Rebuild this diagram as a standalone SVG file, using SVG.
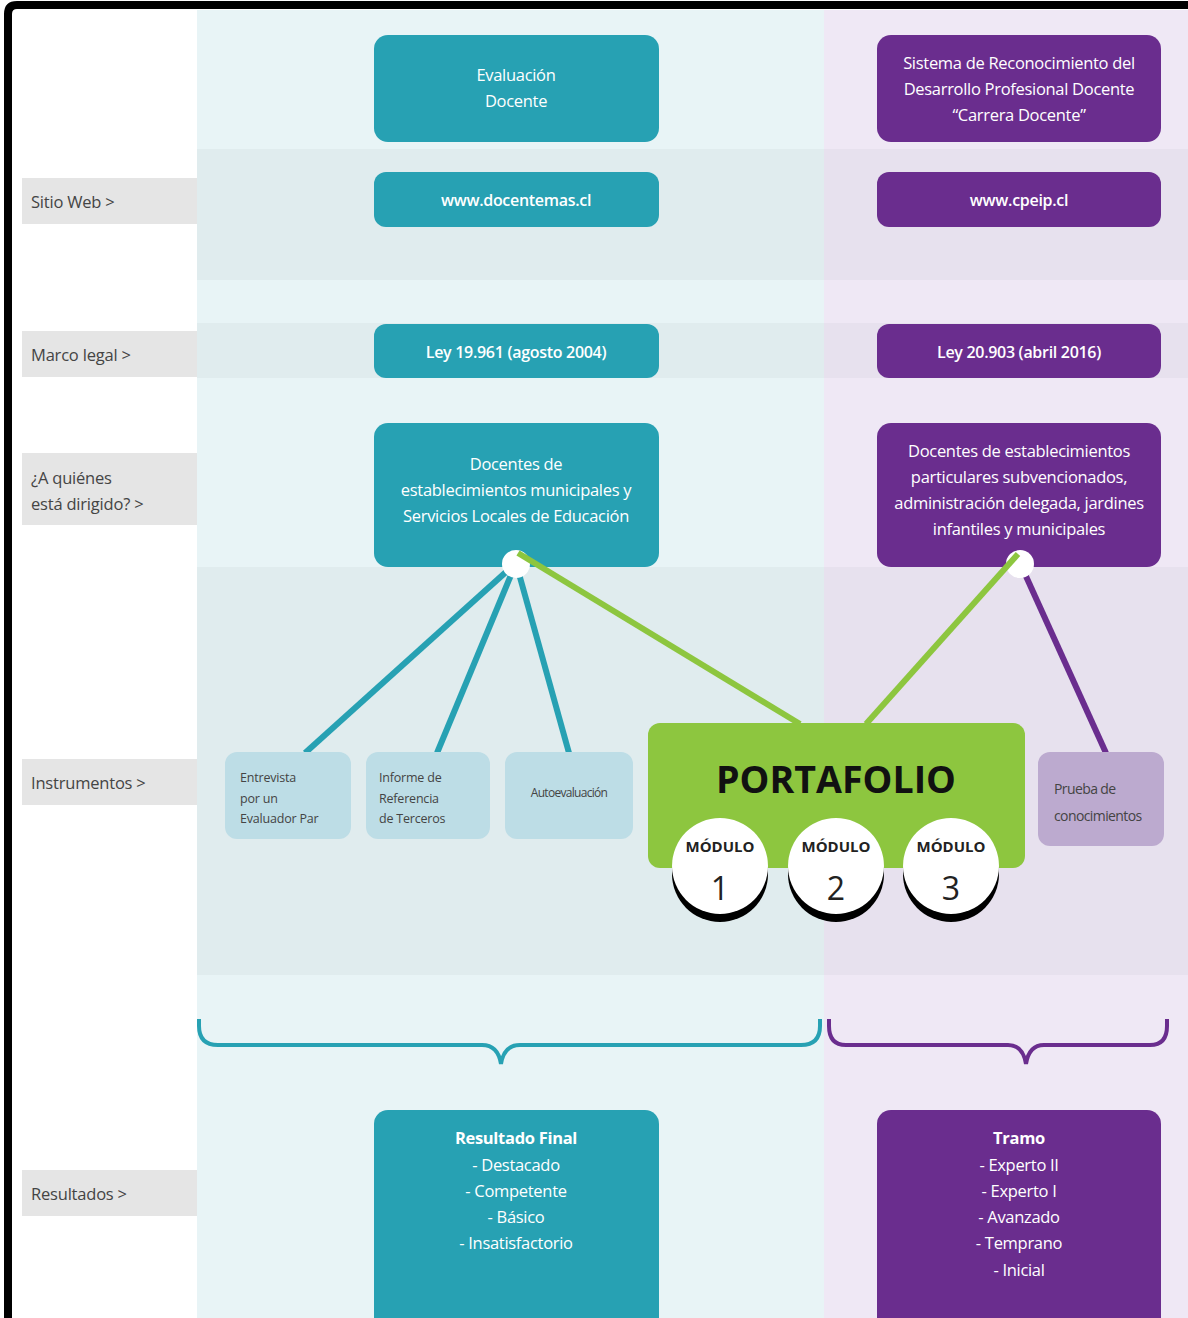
<svg xmlns="http://www.w3.org/2000/svg" width="1188" height="1318" viewBox="0 0 1188 1318">
<style>
text{font-family:"Open Sans","Noto Sans","Liberation Sans",sans-serif}
.lbl{fill:#e5e5e5}
.lt{font-size:16.5px;fill:#444;letter-spacing:-0.2px}
.tb{fill:#27a1b3}
.pb{fill:#6a2d8e}
.wt{font-size:16.5px;fill:#fff;text-anchor:middle;letter-spacing:-0.3px}
.sb{font-weight:600;font-size:16px}
.ib{fill:#bddde6}
.it{font-size:12.5px;fill:#444;letter-spacing:-0.2px}
.tl{stroke:#27a1b3;stroke-width:6;fill:none}
.pl{stroke:#6a2d8e;stroke-width:6;fill:none}
.gl{stroke:#8dc63f;stroke-width:6;fill:none}
.mod{font-size:15px;font-weight:700;fill:#222;text-anchor:middle}
.num{font-size:32px;fill:#222;text-anchor:middle}
</style>
<rect x="0" y="0" width="1188" height="1318" fill="#fff"/>
<rect x="197" y="10" width="627" height="1308" fill="#e8f4f6"/>
<rect x="824" y="10" width="364" height="1308" fill="#efe8f5"/>
<g fill="#e0ecee">
<rect x="197" y="149" width="627" height="131"/>
<rect x="197" y="323" width="627" height="55"/>
<rect x="197" y="567" width="627" height="408"/>
</g>
<g fill="#e7e1ee">
<rect x="824" y="149" width="364" height="131"/>
<rect x="824" y="323" width="364" height="55"/>
<rect x="824" y="567" width="364" height="408"/>
</g>
<path d="M8,1318 V14 Q8,5 17,5 H1188" fill="none" stroke="#000" stroke-width="8"/>

<g id="row-labels">
<g id="lbl-sitio"><rect class="lbl" x="22" y="178" width="175" height="46"/><text class="lt" x="31" y="208">Sitio Web &gt;</text></g>
<g id="lbl-marco"><rect class="lbl" x="22" y="331" width="175" height="46"/><text class="lt" x="31" y="361">Marco legal &gt;</text></g>
<g id="lbl-quienes"><rect class="lbl" x="22" y="453" width="175" height="72"/><text class="lt" x="31" y="484">¿A quiénes</text><text class="lt" x="31" y="510">está dirigido? &gt;</text></g>
<g id="lbl-instr"><rect class="lbl" x="22" y="759" width="175" height="46"/><text class="lt" x="31" y="789">Instrumentos &gt;</text></g>
<g id="lbl-result"><rect class="lbl" x="22" y="1170" width="175" height="46"/><text class="lt" x="31" y="1200">Resultados &gt;</text></g>
</g>

<g id="n-eval"><rect class="tb" x="374" y="35" width="285" height="107" rx="14"/><text class="wt" x="516" y="81">Evaluación</text><text class="wt" x="516" y="107">Docente</text></g>
<g id="n-sistema"><rect class="pb" x="877" y="35" width="284" height="107" rx="14"/><text class="wt" x="1019" y="69">Sistema de Reconocimiento del</text><text class="wt" x="1019" y="95">Desarrollo Profesional Docente</text><text class="wt" x="1019" y="121">“Carrera Docente”</text></g>
<g id="n-web1"><rect class="tb" x="374" y="172" width="285" height="55" rx="12"/><text class="wt sb" x="516" y="206">www.docentemas.cl</text></g>
<g id="n-web2"><rect class="pb" x="877" y="172" width="284" height="55" rx="12"/><text class="wt sb" x="1019" y="206">www.cpeip.cl</text></g>
<g id="n-ley1"><rect class="tb" x="374" y="324" width="285" height="54" rx="12"/><text class="wt sb" x="516" y="358">Ley 19.961 (agosto 2004)</text></g>
<g id="n-ley2"><rect class="pb" x="877" y="324" width="284" height="54" rx="12"/><text class="wt sb" x="1019" y="358">Ley 20.903 (abril 2016)</text></g>
<g id="n-doc1"><rect class="tb" x="374" y="423" width="285" height="144" rx="14"/><text class="wt" x="516" y="470">Docentes de</text><text class="wt" x="516" y="496">establecimientos municipales y</text><text class="wt" x="516" y="522">Servicios Locales de Educación</text></g>
<g id="n-doc2"><rect class="pb" x="877" y="423" width="284" height="144" rx="14"/><text class="wt" x="1019" y="457">Docentes de establecimientos</text><text class="wt" x="1019" y="483">particulares subvencionados,</text><text class="wt" x="1019" y="509">administración delegada, jardines</text><text class="wt" x="1019" y="535">infantiles y municipales</text></g>

<g id="connectors">
<line class="tl" x1="516" y1="563" x2="305" y2="753"/>
<line class="tl" x1="516" y1="563" x2="437" y2="753"/>
<line class="tl" x1="516" y1="563" x2="569" y2="753"/>
<line class="pl" x1="1020" y1="563" x2="1106" y2="753"/>
<circle cx="516" cy="564" r="14" fill="#fff"/>
<circle cx="1020" cy="564" r="14" fill="#fff"/>
<line class="gl" x1="518" y1="553" x2="800" y2="724"/>
<line class="gl" x1="1018" y1="554" x2="866" y2="724"/>
<g id="brace-teal"><path d="M199,1019 V1026 Q199,1045 218,1045 H482 Q498,1045 501,1064 Q504,1045 520,1045 H801 Q820,1045 820,1026 V1019" fill="none" stroke="#27a1b3" stroke-width="4"/></g>
<g id="brace-purple"><path d="M829,1019 V1026 Q829,1045 846,1045 H1008 Q1023,1045 1026,1064 Q1029,1045 1044,1045 H1150 Q1167,1045 1167,1026 V1019" fill="none" stroke="#6a2d8e" stroke-width="4"/></g>
</g>

<g id="n-entrevista"><rect class="ib" x="225" y="752" width="126" height="87" rx="12"/><text class="it" x="240" y="782">Entrevista</text><text class="it" x="240" y="803">por un</text><text class="it" x="240" y="823">Evaluador Par</text></g>
<g id="n-informe"><rect class="ib" x="366" y="752" width="124" height="87" rx="12"/><text class="it" x="379" y="782">Informe de</text><text class="it" x="379" y="803">Referencia</text><text class="it" x="379" y="823">de Terceros</text></g>
<g id="n-auto"><rect class="ib" x="505" y="752" width="128" height="87" rx="12"/><text class="it" x="569" y="797" text-anchor="middle" style="font-size:12px;letter-spacing:-0.7px">Autoevaluación</text></g>
<g id="n-prueba"><rect x="1038" y="752" width="126" height="94" rx="12" fill="#bcaacf"/><text class="it" x="1054" y="794" style="font-size:14px;letter-spacing:-0.6px">Prueba de</text><text class="it" x="1054" y="821" style="font-size:14px;letter-spacing:-0.6px">conocimientos</text></g>

<g id="n-portafolio">
<rect x="648" y="723" width="377" height="145" rx="12" fill="#8dc63f"/>
<text x="836" y="793" text-anchor="middle" font-size="38" font-weight="700" fill="#111" textLength="240" lengthAdjust="spacingAndGlyphs">PORTAFOLIO</text>
<g id="mod1"><circle cx="720" cy="874" r="48" fill="#000"/><circle cx="720" cy="866" r="48" fill="#fff"/><text class="mod" x="720" y="852">MÓDULO</text><text class="num" x="720" y="900">1</text></g>
<g id="mod2"><circle cx="836" cy="874" r="48" fill="#000"/><circle cx="836" cy="866" r="48" fill="#fff"/><text class="mod" x="836" y="852">MÓDULO</text><text class="num" x="836" y="900">2</text></g>
<g id="mod3"><circle cx="951" cy="874" r="48" fill="#000"/><circle cx="951" cy="866" r="48" fill="#fff"/><text class="mod" x="951" y="852">MÓDULO</text><text class="num" x="951" y="900">3</text></g>
</g>

<g id="n-resultado"><rect class="tb" x="374" y="1110" width="285" height="240" rx="14"/><text class="wt" x="516" y="1144" font-weight="700">Resultado Final</text><text class="wt" x="516" y="1171">- Destacado</text><text class="wt" x="516" y="1197">- Competente</text><text class="wt" x="516" y="1223">- Básico</text><text class="wt" x="516" y="1249">- Insatisfactorio</text></g>
<g id="n-tramo"><rect class="pb" x="877" y="1110" width="284" height="240" rx="14"/><text class="wt" x="1019" y="1144" font-weight="700">Tramo</text><text class="wt" x="1019" y="1171">- Experto II</text><text class="wt" x="1019" y="1197">- Experto I</text><text class="wt" x="1019" y="1223">- Avanzado</text><text class="wt" x="1019" y="1249">- Temprano</text><text class="wt" x="1019" y="1276">- Inicial</text></g>
</svg>
